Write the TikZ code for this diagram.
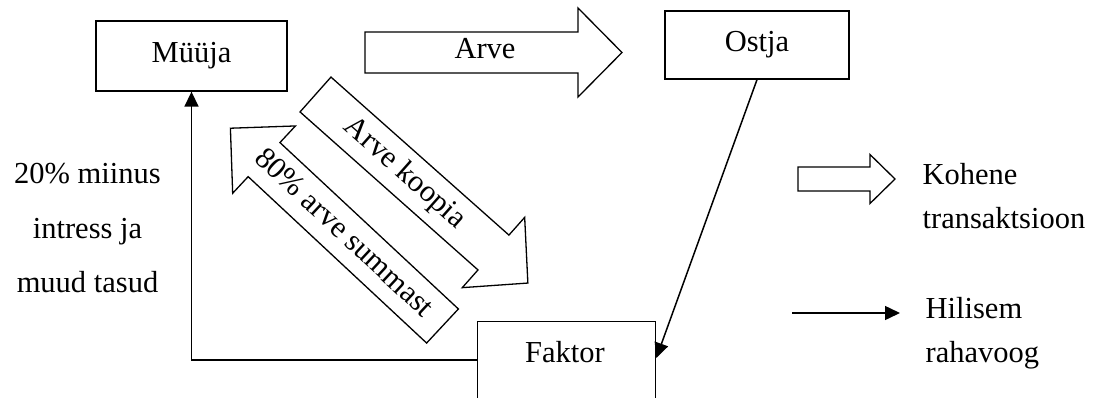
\documentclass[tikz,border=0pt]{standalone}
\usepackage{fontspec}
\setmainfont{Liberation Serif}
\usetikzlibrary{arrows.meta,calc}
\newcommand{\blkarrow}[7]{%
  \draw[blk,shift={(#1,#2)},rotate=#3]
    (0,-#5) -- ({#4-#7},-#5) -- ({#4-#7},-#6) -- (#4,0) --
    ({#4-#7},#6) -- ({#4-#7},#5) -- (0,#5) -- cycle;}
\begin{document}
\begin{tikzpicture}[x=1pt,y=-1pt,line width=1.3pt,
  box/.style={draw,rectangle,inner sep=0pt},
  lbl/.style={font=\fontsize{30.5}{36}\selectfont,inner sep=0pt},
  blk/.style={draw,fill=white,line width=1.3pt,line join=miter},
  flow/.style={-{Triangle[length=15pt,width=14pt]},line width=1.5pt}]
\useasboundingbox (0,0) rectangle (1095,397);
\clip (0,0) rectangle (1095,397);

% boxes
\node[box,lbl,minimum width=191pt,minimum height=70pt] (muuja) at (191.5,56) {Müüja};
\node[box,lbl,minimum width=184pt,minimum height=68pt] (ostja) at (757,45) {Ostja};
\node[box,minimum width=178pt,minimum height=100pt,anchor=north west] (faktor) at (477,321) {};
\node[lbl,anchor=base] (faktortxt) at (565,362) {Faktor};

% block arrows (immediate transactions)
\blkarrow{365}{52.5}{0}{257}{20.5}{44.5}{44}
\node[lbl,anchor=base] (arvetxt) at (485,58) {Arve};

\blkarrow{315.5}{94.5}{-41.6}{284}{23.3}{47}{46}
\node[lbl,rotate=-41.6] (koopiatxt) at (404.5,173.5) {Arve koopia};

\blkarrow{442.5}{326}{137}{290}{23.3}{46}{46}
\node[lbl,rotate=-43] (summatxt) at (345,232) {80\% arve summast};

% later cash flows
\coordinate (fkin) at ($(faktor.north east)+(0,37)$);
\coordinate (fkout) at ($(faktor.north west)+(0,39)$);
\draw[flow] (ostja.south) -- (fkin);
\draw[flow] (fkout) -| (muuja.south);

% left label
\node[lbl,anchor=base] (l1) at (87.5,183) {20\% miinus};
\node[lbl,anchor=base] (l2) at (87.5,238) {intress ja};
\node[lbl,anchor=base] (l3) at (87.5,292) {muud tasud};

% legend
\blkarrow{798}{179}{0}{97}{12}{24.5}{25}
\node[lbl,anchor=base west] (k1) at (922,184) {Kohene};
\node[lbl,anchor=base west] (k2) at (922,228) {transaktsioon};
\coordinate (ls) at (792,313);
\coordinate (le) at (900,313);
\draw[flow] (ls) -- (le);
\node[lbl,anchor=base west] (h1) at (925,318) {Hilisem};
\node[lbl,anchor=base west] (h2) at (925,362) {rahavoog};
\end{tikzpicture}
\end{document}
